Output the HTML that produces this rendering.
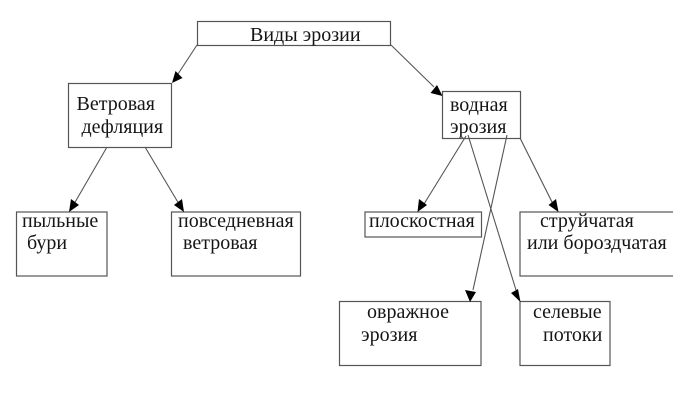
<!DOCTYPE html>
<html><head><meta charset="utf-8"><style>
html,body{margin:0;padding:0;background:#fff;width:673px;height:400px;overflow:hidden}
svg{display:block}
text{font-family:"Liberation Serif","Noto Serif CJK SC",serif;font-size:20px;fill:#151515}
rect{fill:none;stroke:#555;stroke-width:1.2}
line{stroke:#555;stroke-width:1.1}
polygon{fill:#000}
</style></head><body>
<svg width="673" height="400" viewBox="0 0 673 400" xmlns="http://www.w3.org/2000/svg">
<rect x="197.5" y="21.5" width="193" height="24"/>
<rect x="68.5" y="83.5" width="103" height="64"/>
<rect x="442.5" y="91.5" width="78" height="47"/>
<rect x="16.5" y="212" width="90.5" height="64"/>
<rect x="171.5" y="212" width="129" height="64"/>
<rect x="365" y="212" width="116.5" height="25"/>
<rect x="520" y="212" width="155" height="64"/>
<rect x="339.5" y="301.5" width="141.5" height="64"/>
<rect x="520" y="301.5" width="90" height="64"/>

<line x1="197" y1="45" x2="178" y2="74"/>
<polygon points="172,83 175.5,71 182.5,78"/>
<line x1="391" y1="45" x2="434" y2="87"/>
<polygon points="442.5,96 430.5,93 437,85"/>
<line x1="107" y1="147" x2="74" y2="204"/>
<polygon points="69,212 71,199 79,205"/>
<line x1="145" y1="147" x2="179" y2="204"/>
<polygon points="184,212 174,205 182,199"/>
<line x1="466" y1="136" x2="424" y2="204"/>
<polygon points="417.5,212 419,199 427,205"/>
<line x1="468" y1="135" x2="516" y2="290"/>
<polygon points="520.5,302 511,293 518,289"/>
<line x1="507" y1="135" x2="473" y2="290"/>
<polygon points="470,302 465,290 476,292"/>
<line x1="520" y1="138" x2="553" y2="204"/>
<polygon points="558.5,212 548.5,205 556,199"/>

<text x="250" y="41">Виды эрозии</text>
<text x="76.5" y="110">Ветровая</text>
<text x="81.5" y="133">дефляция</text>
<text x="450" y="111">водная</text>
<text x="450" y="133">эрозия</text>
<text x="22" y="227">пыльные</text>
<text x="27" y="249">бури</text>
<text x="178" y="227">повседневная</text>
<text x="183" y="249">ветровая</text>
<text x="369" y="227">плоскостная</text>
<text x="540" y="227">струйчатая</text>
<text x="527" y="249">или бороздчатая</text>
<text x="367" y="318">овражное</text>
<text x="361" y="341">эрозия</text>
<text x="533" y="318">селевые</text>
<text x="543" y="341">потоки</text>
</svg>
</body></html>
